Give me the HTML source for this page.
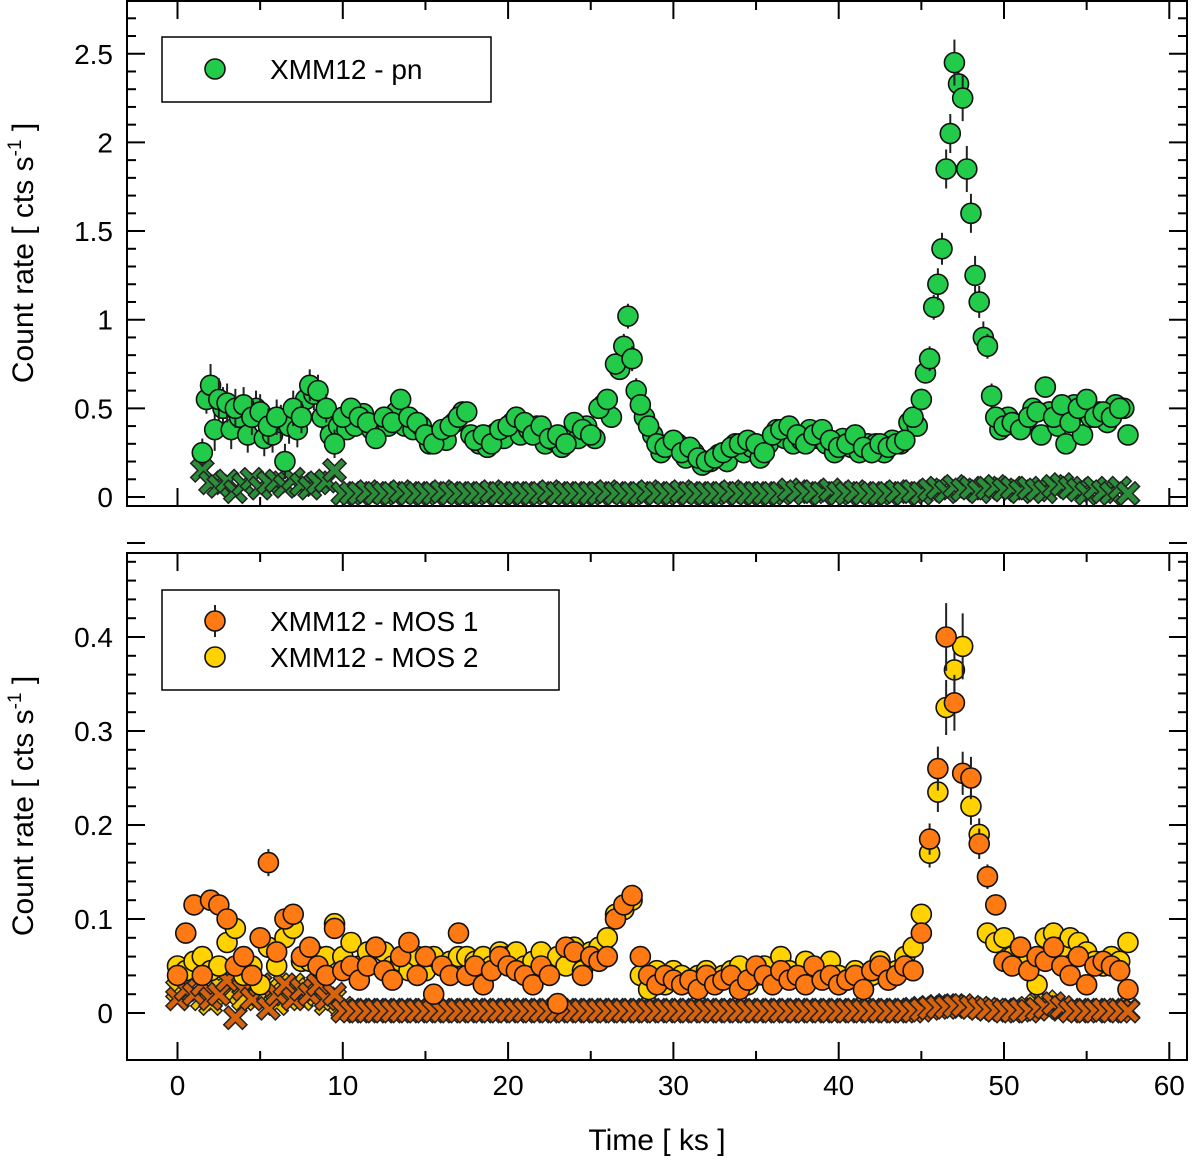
<!DOCTYPE html>
<html><head><meta charset="utf-8"><style>
body{margin:0;background:#fff}
svg{display:block;font-family:"Liberation Sans",sans-serif}
</style></head><body>
<svg id="c" width="1200" height="1165" viewBox="0 0 1200 1165"></svg>
<script>
// ---- data (time in ks, rates in cts/s) ----
const pnStart = 1.5, pnStartB = 1.75, step = 0.5;
const pnRate = [0.25,0.63,0.55,0.53,0.5,0.52,0.45,0.48,0.4,0.45,0.2,0.5,0.45,0.63,0.6,0.5,0.3,0.45,0.5,0.45,0.42,0.33,0.45,0.42,0.55,0.45,0.42,0.35,0.3,0.38,0.4,0.45,0.48,0.32,0.35,0.3,0.38,0.4,0.45,0.42,0.35,0.4,0.33,0.35,0.3,0.42,0.38,0.35,0.5,0.55,0.75,0.85,0.78,0.52,0.4,0.3,0.28,0.32,0.25,0.28,0.22,0.2,0.22,0.25,0.28,0.3,0.32,0.3,0.25,0.35,0.38,0.4,0.35,0.3,0.35,0.38,0.32,0.28,0.3,0.35,0.28,0.25,0.3,0.28,0.3,0.32,0.45,0.55,0.78,1.2,1.85,2.45,2.25,1.6,1.1,0.85,0.45,0.4,0.42,0.38,0.45,0.48,0.62,0.45,0.52,0.42,0.5,0.55,0.45,0.48,0.45,0.5,0.35];
const pnRateB = [0.55,0.38,0.5,0.38,0.45,0.35,0.5,0.33,0.35,0.42,0.4,0.38,0.55,0.58,0.45,0.35,0.4,0.38,0.4,0.47,0.38,0.42,0.4,0.48,0.4,0.38,0.4,0.3,0.35,0.32,0.42,0.48,0.35,0.3,0.28,0.36,0.33,0.42,0.35,0.38,0.4,0.3,0.32,0.28,0.35,0.33,0.4,0.33,0.52,0.45,0.72,1.02,0.6,0.45,0.35,0.25,0.3,0.3,0.22,0.25,0.18,0.2,0.24,0.2,0.3,0.25,0.28,0.22,0.3,0.38,0.33,0.3,0.32,0.38,0.33,0.3,0.25,0.33,0.28,0.25,0.3,0.3,0.25,0.32,0.3,0.42,0.4,0.7,1.07,1.4,2.05,2.33,1.85,1.25,0.9,0.57,0.38,0.45,0.4,0.42,0.5,0.35,0.48,0.4,0.3,0.52,0.35,0.45,0.48,0.42,0.52,0.5];
const pnErr = [0.08,0.12,0.12,0.11,0.11,0.1,0.1,0.1,0.1,0.1,0.1,0.1,0.09,0.09,0.09,0.08,0.08,0.05,0.05,0.05,0.05,0.05,0.05,0.05,0.05,0.05,0.05,0.05,0.05,0.05,0.05,0.05,0.05,0.05,0.05,0.05,0.05,0.05,0.05,0.05,0.05,0.05,0.05,0.05,0.05,0.05,0.05,0.05,0.05,0.06,0.06,0.07,0.07,0.05,0.05,0.04,0.04,0.04,0.04,0.04,0.04,0.04,0.04,0.04,0.04,0.04,0.04,0.04,0.04,0.04,0.04,0.04,0.04,0.04,0.04,0.04,0.04,0.04,0.04,0.04,0.04,0.04,0.04,0.04,0.04,0.04,0.05,0.06,0.07,0.09,0.11,0.13,0.13,0.11,0.09,0.07,0.06,0.05,0.05,0.05,0.05,0.05,0.06,0.05,0.05,0.05,0.05,0.05,0.05,0.05,0.05,0.05,0.05];
const pnBkg = [0.15,0.08,0.06,0.09,0.03,0.07,0.1,0.05,0.08,0.09,0.06,0.1,0.07,0.05,0.08,0.09,0.15,0.02,0.02,0.02,0.03,0.02,0.02,0.02,0.03,0.02,0.02,0.02,0.02,0.03,0.02,0.02,0.02,0.02,0.02,0.03,0.02,0.02,0.02,0.02,0.02,0.02,0.03,0.02,0.02,0.02,0.02,0.02,0.02,0.03,0.02,0.02,0.02,0.02,0.03,0.02,0.02,0.02,0.03,0.02,0.02,0.02,0.02,0.02,0.03,0.02,0.02,0.02,0.02,0.02,0.02,0.04,0.03,0.02,0.03,0.02,0.04,0.02,0.02,0.03,0.02,0.02,0.02,0.02,0.03,0.02,0.03,0.02,0.04,0.05,0.03,0.06,0.04,0.05,0.03,0.05,0.06,0.04,0.05,0.03,0.05,0.04,0.03,0.06,0.07,0.05,0.04,0.02,0.05,0.03,0.02,0.05,0.02];
const mosStart = 0;
const mos1Rate = [0.04,0.085,0.115,0.04,0.12,0.115,0.1,0.05,0.06,0.04,0.08,0.16,0.065,0.1,0.105,0.06,0.07,0.05,0.04,0.09,0.045,0.05,0.035,0.05,0.07,0.045,0.035,0.06,0.075,0.04,0.06,0.02,0.05,0.04,0.085,0.04,0.05,0.03,0.045,0.06,0.05,0.045,0.04,0.03,0.05,0.04,0.01,0.07,0.065,0.04,0.06,0.055,0.06,0.1,0.115,0.125,0.06,0.04,0.03,0.04,0.035,0.03,0.035,0.025,0.04,0.03,0.035,0.04,0.025,0.035,0.05,0.04,0.03,0.045,0.035,0.04,0.03,0.05,0.035,0.04,0.03,0.035,0.04,0.025,0.045,0.05,0.035,0.04,0.05,0.045,0.085,0.185,0.26,0.4,0.33,0.255,0.25,0.18,0.145,0.115,0.055,0.05,0.07,0.045,0.06,0.055,0.07,0.05,0.04,0.06,0.03,0.05,0.055,0.05,0.045,0.025];
const mos2Rate = [0.05,0.045,0.055,0.06,0.045,0.05,0.075,0.09,0.04,0.05,0.03,0.07,0.05,0.08,0.09,0.055,0.055,0.06,0.06,0.095,0.06,0.075,0.05,0.065,0.07,0.065,0.05,0.055,0.045,0.06,0.045,0.06,0.05,0.055,0.06,0.06,0.055,0.06,0.05,0.065,0.06,0.065,0.05,0.055,0.065,0.045,0.06,0.05,0.07,0.045,0.065,0.07,0.08,0.105,0.11,0.12,0.04,0.025,0.045,0.03,0.045,0.04,0.035,0.04,0.045,0.035,0.04,0.045,0.05,0.03,0.04,0.05,0.035,0.06,0.045,0.04,0.055,0.04,0.045,0.055,0.04,0.035,0.045,0.03,0.04,0.055,0.04,0.045,0.06,0.07,0.105,0.17,0.235,0.325,0.365,0.39,0.22,0.19,0.085,0.075,0.08,0.06,0.07,0.055,0.03,0.08,0.085,0.07,0.08,0.075,0.065,0.055,0.05,0.06,0.055,0.075];
const mos1Bkg = [0.015,0.025,0.02,0.03,0.015,0.02,0.035,-0.005,0.025,0.015,0.03,0.005,0.02,0.03,0.015,0.025,0.02,0.03,0.015,0.02,0.002,0.002,0.002,0.002,0.002,0.002,0.002,0.002,0.002,0.002,0.002,0.002,0.002,0.002,0.002,0.002,0.002,0.002,0.002,0.002,0.002,0.002,0.002,0.002,0.002,0.002,0.002,0.002,0.002,0.002,0.002,0.002,0.002,0.002,0.002,0.002,0.002,0.002,0.002,0.002,0.002,0.002,0.002,0.002,0.002,0.002,0.002,0.002,0.002,0.002,0.002,0.002,0.002,0.002,0.002,0.002,0.002,0.002,0.002,0.002,0.002,0.002,0.002,0.002,0.002,0.002,0.002,0.002,0.002,0.002,0.003,0.005,0.006,0.006,0.007,0.008,0.006,0.005,0.004,0.003,0.002,0.002,0.003,0.002,0.004,0.006,0.01,0.006,0.002,0.002,0.002,0.002,0.003,0.002,0.002,0.002];
const mos2Bkg = [0.025,0.03,0.02,0.015,0.01,0.03,0.02,0.025,0.015,0.03,0.02,0.025,0.01,0.02,0.03,0.015,0.025,0.02,0.01,0.015,0.005,0.003,0.003,0.003,0.003,0.003,0.003,0.003,0.003,0.003,0.003,0.003,0.003,0.003,0.003,0.003,0.003,0.003,0.003,0.003,0.003,0.003,0.003,0.003,0.003,0.003,0.003,0.003,0.003,0.003,0.003,0.003,0.003,0.003,0.003,0.003,0.003,0.003,0.003,0.003,0.003,0.003,0.003,0.003,0.003,0.003,0.003,0.003,0.003,0.003,0.003,0.003,0.003,0.003,0.003,0.003,0.003,0.003,0.003,0.003,0.003,0.003,0.003,0.003,0.003,0.003,0.003,0.003,0.003,0.004,0.005,0.006,0.007,0.008,0.008,0.007,0.006,0.005,0.004,0.003,0.003,0.003,0.004,0.005,0.008,0.012,0.008,0.004,0.003,0.003,0.003,0.003,0.003,0.003,0.003,0.003];
const xTicks = [0,10,20,30,40,50,60];
const topTicks = [0,0.5,1,1.5,2,2.5];
const botTicks = [0,0.1,0.2,0.3,0.4];

const NS="http://www.w3.org/2000/svg", svg=document.getElementById('c');
function mk(tag,attrs,parent){const e=document.createElementNS(NS,tag);for(const k in attrs)e.setAttribute(k,attrs[k]);(parent||svg).appendChild(e);return e;}
const X0=127,X1=1187;
const xs=t=>177.5+t*16.53;
const P1={top:1,bot:506,y:v=>497-v*177.3,min:-0.05,max:2.85,minor:0.1};
const P2={top:553,bot:1060,y:v=>1013-v*940,min:-0.05,max:0.5,minor:0.02};

function frame(P,name){
  const g=mk('g',{});  
  mk('rect',{x:X0,y:P.top,width:X1-X0,height:P.bot-P.top,fill:'none',stroke:'#000','stroke-width':2},g);
  for(let t=0;t<=60;t+=5){const x=xs(t),L=t%10===0?18:9;
    mk('line',{x1:x,x2:x,y1:P.bot,y2:P.bot-L,stroke:'#000','stroke-width':2},g);
    mk('line',{x1:x,x2:x,y1:P.top,y2:P.top+L,stroke:'#000','stroke-width':2},g);}
  for(let v=0;v<=P.max+1e-9;v+=P.minor){const y=P.y(v);const major=Math.abs(v/(P.minor*5)-Math.round(v/(P.minor*5)))<1e-6;const L=major?18:9;
    mk('line',{x1:X0,x2:X0+L,y1:y,y2:y,stroke:'#000','stroke-width':2},g);
    mk('line',{x1:X1,x2:X1-L,y1:y,y2:y,stroke:'#000','stroke-width':2},g);}
  return g;
}
const f1=frame(P1,'top-panel-frame'), f2=frame(P2,'bottom-panel-frame');
topTicks.forEach(v=>{const t=mk('text',{x:113,y:P1.y(v)+10,'text-anchor':'end','font-size':28});t.textContent=String(v);});
botTicks.forEach(v=>{const t=mk('text',{x:113,y:P2.y(v)+10,'text-anchor':'end','font-size':28});t.textContent=String(v);});
xTicks.forEach(v=>{const t=mk('text',{x:xs(v),y:1095,'text-anchor':'middle','font-size':28});t.textContent=String(v);});
function ytitle(cy,name){const t=mk('text',{x:0,y:0,transform:`translate(33,${cy}) rotate(-90)`,'text-anchor':'middle','font-size':30});
  t.innerHTML='Count rate [ cts s<tspan dy="-12" font-size="19">-1</tspan><tspan dy="12"> ]</tspan>';
  }
ytitle(253,'top-y-axis-title'); ytitle(806,'bottom-y-axis-title');
const xt=mk('text',{x:657,y:1150,'text-anchor':'middle','font-size':30});xt.textContent='Time [ ks ]';


function crosses(P,start,arr,col,name){const g=mk('g',{});
  arr.forEach((v,i)=>{const x=xs(start+i*step),y=P.y(v),s=7;
    const p=mk('path',{d:`M${x-s},${y-s}L${x+s},${y+s}M${x-s},${y+s}L${x+s},${y-s}`,stroke:'#222','stroke-width':8,'stroke-linecap':'square'},g);
    
    mk('path',{d:`M${x-s},${y-s}L${x+s},${y+s}M${x-s},${y+s}L${x+s},${y-s}`,stroke:col,'stroke-width':5,'stroke-linecap':'square'},g);});}
function circles(P,start,arr,err,col,name){const g=mk('g',{});
  arr.forEach((v,i)=>{const x=xs(start+i*step),y=P.y(v);const e=err?err[Math.min(i,err.length-1)]:Math.max(0.01,v*0.09);
    mk('line',{x1:x,x2:x,y1:P.y(v-e),y2:P.y(v+e),stroke:'#222','stroke-width':2},g);
    const c=mk('circle',{cx:x,cy:y,r:10,fill:col,stroke:'#111','stroke-width':1.6},g);
    });}
crosses(P1,pnStart,pnBkg,'#2a8f38','pn-background');
circles(P1,pnStartB,pnRateB,pnErr,'#22cc4a','pn-series-b');
circles(P1,pnStart,pnRate,pnErr,'#22cc4a','pn-series');
crosses(P2,mosStart,mos2Bkg,'#f5c400','mos2-background');
crosses(P2,mosStart,mos1Bkg,'#d9620c','mos1-background');
circles(P2,mosStart,mos2Rate,null,'#ffd200','mos2-series');
circles(P2,mosStart,mos1Rate,null,'#ff7a12','mos1-series');

// legends
const l1=mk('g',{});
mk('rect',{x:162,y:37,width:329,height:65,fill:'#fff',stroke:'#000','stroke-width':1.5},l1);
mk('circle',{cx:215,cy:69,r:10,fill:'#22cc4a',stroke:'#111','stroke-width':1.6},l1);
const lt1=mk('text',{x:270,y:79,'font-size':28},l1);lt1.textContent='XMM12 - pn';
const l2=mk('g',{});
mk('rect',{x:162,y:590,width:397,height:100,fill:'#fff',stroke:'#000','stroke-width':1.5},l2);
mk('line',{x1:215,x2:215,y1:605,y2:637,stroke:'#222','stroke-width':2},l2);
mk('circle',{cx:215,cy:621,r:10,fill:'#ff7a12',stroke:'#111','stroke-width':1.6},l2);
mk('circle',{cx:215,cy:657,r:10,fill:'#ffd200',stroke:'#111','stroke-width':1.6},l2);
const lt2=mk('text',{x:270,y:631,'font-size':28},l2);lt2.textContent='XMM12 - MOS 1';
const lt3=mk('text',{x:270,y:667,'font-size':28},l2);lt3.textContent='XMM12 - MOS 2';
</script>
</body></html>
